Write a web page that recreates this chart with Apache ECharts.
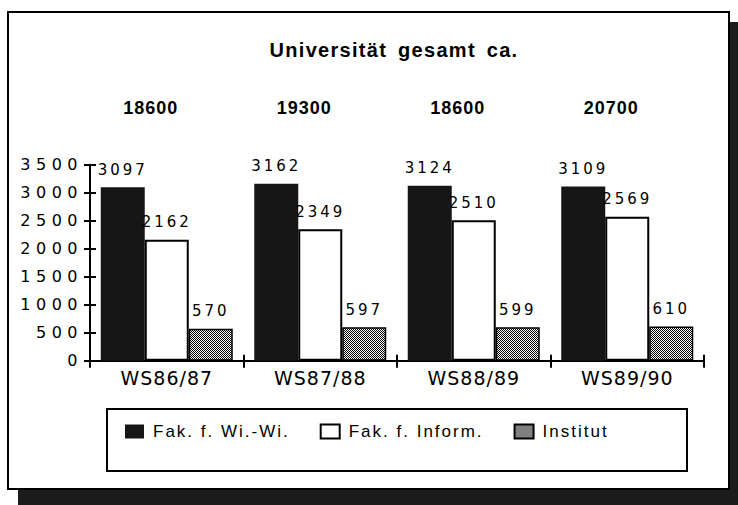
<!DOCTYPE html>
<html>
<head>
<meta charset="utf-8">
<script src="https://cdn.jsdelivr.net/npm/echarts/dist/echarts.min.js"></script>
<style>
  html, body { margin: 0; padding: 0; background: #fff; }
  #chart { width: 738px; height: 505px; }
  /* tracking to mimic the widened lettering of the original */
  #chart text[style*="16px"] { letter-spacing: 5.5px; }
  #chart text[style*="15px"] { letter-spacing: 3px; }
  #chart text[style*="19px"] { letter-spacing: 1px; }
  #chart text[style*="17px"] { letter-spacing: 2px; }
  #chart text[style*="18px"] { letter-spacing: 1px; }
  #chart text[style*="20px"] { letter-spacing: 1.3px; word-spacing: 4px; }
</style>
</head>
<body>
<div id="chart"></div>
<script>
// ---- data ----
const titleText = 'Universität gesamt ca.';
const categories = ['WS86/87', 'WS87/88', 'WS88/89', 'WS89/90'];
const totals = ['18600', '19300', '18600', '20700'];
const seriesNames = ['Fak. f. Wi.-Wi.', 'Fak. f. Inform.', 'Institut'];
const wiwi = [3097, 3162, 3124, 3109];
const inform = [2162, 2349, 2510, 2569];
const institut = [570, 597, 599, 610];
const yMin = 0, yMax = 3500, yStep = 500;

// ---- dithered grey fill ----
const pc = document.createElement('canvas');
pc.width = 2; pc.height = 2;
const pctx = pc.getContext('2d');
pctx.fillStyle = '#ffffff'; pctx.fillRect(0, 0, 2, 2);
pctx.fillStyle = '#000000'; pctx.fillRect(0, 0, 1, 1); pctx.fillRect(1, 1, 1, 1);
const dither = { image: pc, repeat: 'repeat' };

const chart = echarts.init(document.getElementById('chart'), null, { renderer: 'svg' });

const valueLabel = {
  show: true, position: 'top', distance: 10,
  fontFamily: 'DejaVu Sans', fontSize: 15, color: '#000'
};

const option = {
  animation: false,
  title: {
    text: titleText, left: 394, top: 40, textAlign: 'center', padding: 0,
    textStyle: { fontFamily: 'Liberation Sans', fontWeight: 'bold', fontSize: 20, color: '#000' }
  },
  legend: {
    data: seriesNames,
    left: 125, top: 423, icon: 'rect',
    itemWidth: 19, itemHeight: 14, itemGap: 60, padding: 0,
    textStyle: { fontFamily: 'Liberation Sans', fontSize: 17, color: '#000', padding: [0, 0, 0, 4] }
  },
  graphic: [
    { type: 'rect', z: 0, silent: true, shape: { x: 18, y: 22, width: 720, height: 483 }, style: { fill: '#1c1c1c' } },
    { type: 'rect', z: 0, silent: true, shape: { x: 8, y: 12, width: 721, height: 477 }, style: { fill: '#fff', stroke: '#000', lineWidth: 2 } },
    { type: 'rect', z: 0, silent: true, shape: { x: 107, y: 409, width: 580, height: 62 }, style: { fill: 'none', stroke: '#000', lineWidth: 2 } }
  ],
  grid: { left: 90, right: 34, top: 164.7, bottom: 144.3, containLabel: false },
  xAxis: [
    {
      type: 'category', data: categories, position: 'bottom',
      axisLine: { lineStyle: { color: '#000', width: 2 } },
      axisTick: { show: true, length: 7, lineStyle: { color: '#000', width: 2 } },
      axisLabel: { interval: 0, margin: 8, fontFamily: 'DejaVu Sans', fontSize: 19, color: '#000' }
    },
    {
      type: 'category', data: totals, position: 'top',
      axisLine: { show: false }, axisTick: { show: false },
      axisLabel: { interval: 0, margin: 48, fontFamily: 'Liberation Sans', fontWeight: 'bold', fontSize: 18, color: '#000', padding: [0, 32, 0, 0] }
    },
    {
      type: 'category', data: categories, position: 'bottom',
      axisLine: { show: false },
      axisTick: { show: true, inside: true, length: 6, lineStyle: { color: '#000', width: 2 } },
      axisLabel: { show: false }
    }
  ],
  yAxis: [
    {
      type: 'value', min: yMin, max: yMax, interval: yStep,
      axisLine: { show: true, lineStyle: { color: '#000', width: 2 } },
      axisTick: { show: true, length: 6, lineStyle: { color: '#000', width: 2 } },
      splitLine: { show: false },
      axisLabel: { margin: 7, fontFamily: 'DejaVu Sans', fontSize: 16, color: '#000', formatter: v => String(v) }
    },
    {
      type: 'value', min: yMin, max: yMax, interval: yStep, position: 'left',
      axisLine: { show: false },
      axisTick: { show: true, inside: true, length: 6, lineStyle: { color: '#000', width: 2 } },
      axisLabel: { show: false }, splitLine: { show: false }
    }
  ],
  series: [
    {
      name: seriesNames[0], type: 'bar', data: wiwi, barGap: '0%', barCategoryGap: '14%',
      itemStyle: { color: '#161616' }, label: valueLabel
    },
    {
      name: seriesNames[1], type: 'bar', data: inform,
      itemStyle: { color: '#ffffff', borderColor: '#000', borderWidth: 2 }, label: valueLabel
    },
    {
      name: seriesNames[2], type: 'bar', data: institut,
      itemStyle: { color: dither, borderColor: '#000', borderWidth: 1.5 }, label: valueLabel
    }
  ]
};
chart.setOption(option);
</script>
</body>
</html>
